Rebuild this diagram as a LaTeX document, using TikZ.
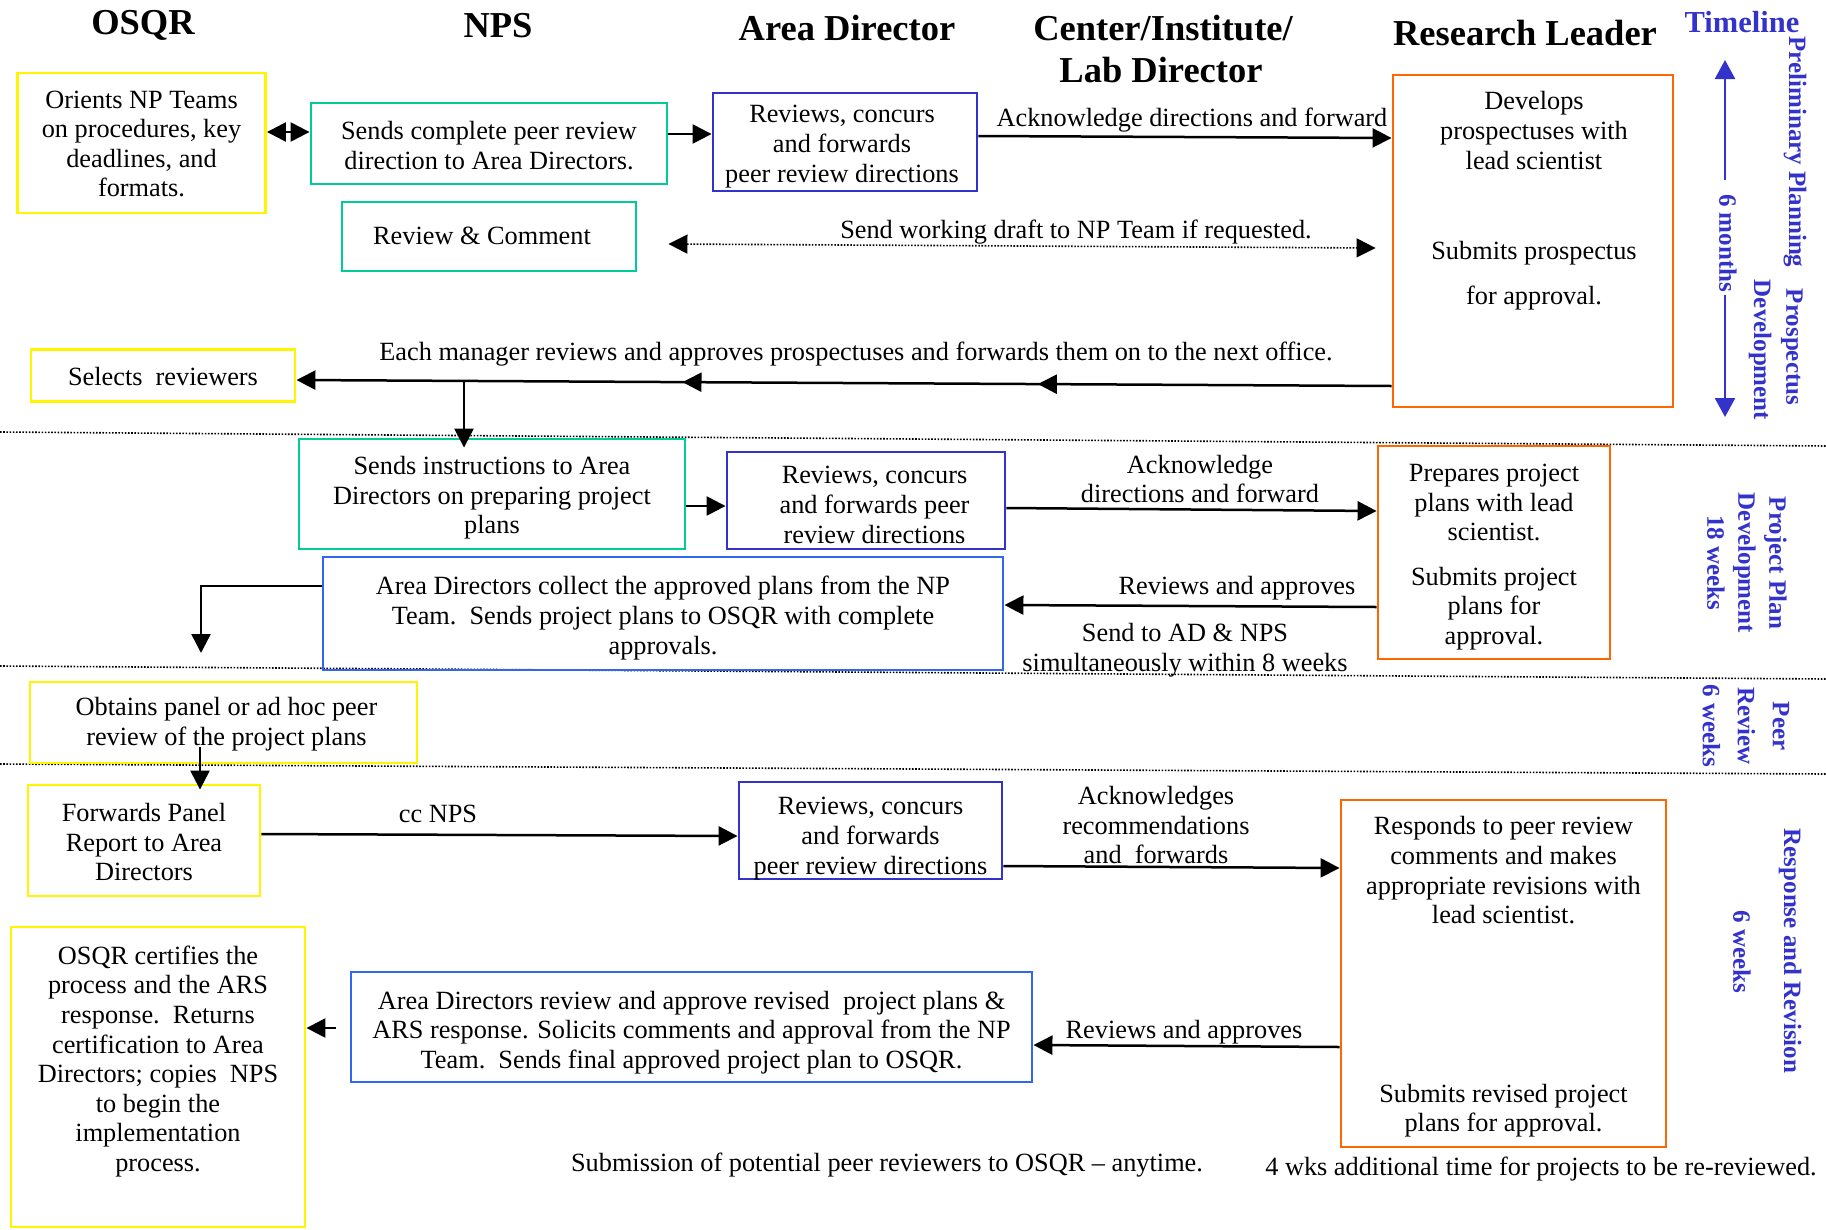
\documentclass[tikz,border=0pt]{standalone}
\usepackage{fontspec}
\setmainfont{Liberation Serif}
\usetikzlibrary{arrows.meta,decorations.markings}
\definecolor{yel}{HTML}{FFF500}
\definecolor{grn}{HTML}{00CC99}
\definecolor{dblue}{HTML}{3333CC}
\definecolor{lblue}{HTML}{3366EE}
\definecolor{orng}{HTML}{FF6600}
\definecolor{tblue}{HTML}{3333CC}
\begin{document}
\begin{tikzpicture}[x=1pt,y=-1pt,
  font=\fontsize{26.3}{29.6}\selectfont,
  every node/.style={align=center, inner sep=0pt},
  box/.style={draw, line width=2.9pt, inner sep=0pt},
  ybox/.style={box, draw=yel},
  gbox/.style={box, draw=grn},
  bbox/.style={box, draw=dblue},
  lbox/.style={box, draw=lblue},
  obox/.style={box, draw=orng},
  hdr/.style={font=\fontsize{36.5}{42}\selectfont\bfseries},
  tl/.style={text=tblue, font=\fontsize{25}{31}\selectfont\bfseries, rotate=-90},
  tip/.tip={Triangle[length=19pt,width=19pt]},
  arr/.style={line width=2.5pt, -tip},
  dbl/.style={line width=2.5pt, tip-tip},
  dotarr/.style={line width=1.6pt, dash pattern=on 1.6pt off 1.6pt, tip-tip},
  divider/.style={line width=1.6pt, dash pattern=on 1.6pt off 1.6pt},
  tarr/.style={line width=2.5pt, draw=tblue, -{Triangle[length=19pt,width=20pt,fill=tblue]}},
  midarr/.style={postaction={decorate}, decoration={markings,
     mark=at position 0.323 with {\arrow{tip}},
     mark=at position 0.6475 with {\arrow{tip}}}}
]
\useasboundingbox (0,0) rectangle (1826,1229);

% headers
\node[hdr] (hOSQR) at (143,25) {OSQR};
\node[hdr] (hNPS) at (498,26) {NPS};
\node[hdr] (hAD) at (847,28) {Area Director};
\node[hdr] (hCIL1) at (1163,28) {Center/Institute/};
\node[hdr] (hCIL2) at (1161,70) {Lab Director};
\node[hdr] (hRL) at (1525,33) {Research Leader};
\node[text=tblue, font=\fontsize{30.5}{36}\selectfont\bfseries] (hTL) at (1742,22) {Timeline};

% dividers
\coordinate (d1a) at (0,432); \coordinate (d1b) at (1826,446);
\coordinate (d2a) at (0,666); \coordinate (d2b) at (1826,679);
\coordinate (d3a) at (0,764); \coordinate (d3b) at (1826,774);
\draw[divider] (d1a) -- (d1b);
\draw[divider] (d2a) -- (d2b);
\draw[divider] (d3a) -- (d3b);

% boxes (frames)
\node[ybox, minimum width=248pt, minimum height=140pt] (OSQR1) at (141.5,143) {};
\node[gbox, minimum width=356pt, minimum height=81pt] (NPS1) at (489,143.5) {};
\node[bbox, minimum width=264pt, minimum height=98pt] (AD1) at (845,142) {};
\node[obox, minimum width=280pt, minimum height=332pt] (RL1) at (1533,241) {};
\node[gbox, minimum width=294pt, minimum height=69pt] (RC) at (489,236.5) {};
\node[ybox, minimum width=264pt, minimum height=52pt] (SEL) at (163,375.5) {};
\node[gbox, minimum width=386pt, minimum height=110pt] (SI) at (492,494) {};
\node[bbox, minimum width=278pt, minimum height=97pt] (AD2) at (866,500.5) {};
\node[obox, minimum width=232pt, minimum height=213pt] (RL2) at (1494,552.5) {};
\node[lbox, minimum width=680pt, minimum height=113pt] (AC) at (663,613.5) {};
\node[ybox, minimum width=387pt, minimum height=81pt] (OBT) at (223.5,722.5) {};
\node[ybox, minimum width=232pt, minimum height=111pt] (FWD) at (144,840.5) {};
\node[bbox, minimum width=263pt, minimum height=97pt] (AD3) at (870.5,830.5) {};
\node[obox, minimum width=325pt, minimum height=347pt] (RL3) at (1503.5,973.5) {};
\node[ybox, minimum width=294pt, minimum height=300pt] (OSQR2) at (158,1077) {};
\node[lbox, minimum width=681pt, minimum height=110pt] (ADR) at (691.5,1027) {};

% box texts
\node (OSQR1t) at (141.5,144)
  {Orients NP Teams\\on procedures, key\\deadlines, and\\formats.};
\node (NPS1t) at (489,145.3)
  {Sends complete peer review\\direction to Area Directors.};
\node (AD1t) at (842,146.6)
  {Reviews, concurs\\and forwards\\peer review directions};
\node (RL1t) at (1534,201)
  {Develops\\prospectuses with\\lead scientist\\[61pt]Submits prospectus\\[15.5pt]for approval.};
\node (RCt) at (482,235.5) {Review \& Comment};
\node (SELt) at (163,376.5) {Selects\ \ reviewers};
\node (SIt) at (492,498)
  {Sends instructions to Area\\Directors on preparing project\\plans};
\node (AD2t) at (874.5,505)
  {Reviews, concurs\\and forwards peer\\review directions};
\node (RL2t) at (1494,557)
  {Prepares project\\plans with lead\\scientist.\\[15pt]Submits project\\plans for\\approval.};
\node (ACt) at (663,618)
  {Area Directors collect the approved plans from the NP\\Team.\ \ Sends project plans to OSQR with complete\\approvals.};
\node (OBTt) at (226.5,724)
  {Obtains panel or ad hoc peer\\review of the project plans};
\node (FWDt) at (144,842)
  {Forwards Panel\\Report to Area\\Directors};
\node (AD3t) at (870.5,838.5)
  {Reviews, concurs\\and forwards\\peer review directions};
\node (RL3t) at (1503.5,977)
  {Responds to peer review\\comments and makes\\appropriate revisions with\\lead scientist.\\[149pt]Submits revised project\\plans for approval.};
\node (OSQR2t) at (158,1061.5)
  {OSQR certifies the\\process and the ARS\\response.\ \ Returns\\certification to Area\\Directors; copies\ \ NPS\\to begin the\\implementation\\process.};
\node (ADRt) at (691.5,1032.5)
  {Area Directors review and approve revised\ \ project plans \&\\ARS response. Solicits comments and approval from the NP\\Team.\ \ Sends final approved project plan to OSQR.};

% labels
\node (l1) at (1192,120.5) {Acknowledge directions and forward};
\node (l2) at (1076,232) {Send working draft to NP Team if requested.};
\node (l3) at (856,354) {Each manager reviews and approves prospectuses and forwards them on to the next office.};
\node (l4) at (1200,479) {Acknowledge\\directions and forward};
\node (l5) at (1237,588) {Reviews and approves};
\node (l6) at (1185,650) {Send to AD \& NPS\\simultaneously within 8 weeks};
\node (l7) at (438,814) {cc NPS};
\node (l8) at (1156,825) {Acknowledges\\recommendations\\and\ \ forwards};
\node (l9) at (1184,1032) {Reviews and approves};
\node (l10) at (887,1165.5) {Submission of potential peer reviewers to OSQR – anytime.};
\node (l11) at (1541,1169) {4 wks additional time for projects to be re-reviewed.};

% connectors
\draw[dbl] ([yshift=11pt]OSQR1.east) -- ([yshift=11.5pt]NPS1.west);
\draw[arr] ([yshift=9.5pt]NPS1.east) -- ([yshift=8pt]AD1.west);
\draw[arr] ([yshift=6pt]AD1.east) -- ([yshift=103pt]RL1.west);
\draw[dotarr] ([xshift=31pt,yshift=-7.5pt]RC.east) -- ([xshift=-16pt,yshift=-7pt]RL1.west);
\draw[arr, midarr] ([yshift=-145pt]RL1.west) -- ([yshift=-4.5pt]SEL.east);
\coordinate (jn) at (464,381);
\draw[arr] (jn) -- ([xshift=-28pt,yshift=-10pt]SI.north);
\draw[arr] ([yshift=-12pt]SI.east) -- ([yshift=-5.5pt]AD2.west);
\draw[arr] ([yshift=-7.5pt]AD2.east) -- ([yshift=41.5pt]RL2.west);
\draw[arr] ([yshift=-54.5pt]RL2.west) -- ([yshift=8.5pt]AC.east);
\coordinate (acend) at (201,653);
\draw[arr] ([yshift=27.5pt]AC.west) -| (acend);
\draw[arr] ([xshift=-23.5pt,yshift=17pt]OBT.south) -- ([xshift=56pt,yshift=-6pt]FWD.north);
\draw[arr] ([yshift=6.5pt]FWD.east) -- ([yshift=-5.5pt]AD3.west);
\draw[arr] ([yshift=-35.5pt]AD3.east) -- ([yshift=105.5pt]RL3.west);
\draw[arr] ([yshift=-73.5pt]RL3.west) -- ([yshift=-18pt]ADR.east);
\draw[arr] ([xshift=-14pt,yshift=-1pt]ADR.west) -- ([yshift=49pt]OSQR2.east);

% timeline
\node[tl] (tPP) at (1795,152) {Preliminary Planning};
\node[tl] (tPr) at (1792,347) {Prospectus};
\node[tl] (tDv) at (1760,350) {Development};
\node[tl] (t6m) at (1728,243) {6 months};
\coordinate (ta1) at (1725,180); \coordinate (ta0) at (1725,60);
\coordinate (tb1) at (1725,295); \coordinate (tb0) at (1725,417);
\draw[tarr] (ta1) -- (ta0);
\draw[tarr] (tb1) -- (tb0);
\node[tl] (tPJ) at (1747,563) {Project Plan\\Development\\18 weeks};
\node[tl, font=\fontsize{25}{35}\selectfont\bfseries] (tPR) at (1746,726) {Peer\\Review\\6 weeks};
\node[tl] (tRR) at (1790,951) {Response and Revision};
\node[tl] (tRR6) at (1742,952) {6 weeks};
\end{tikzpicture}
\end{document}
